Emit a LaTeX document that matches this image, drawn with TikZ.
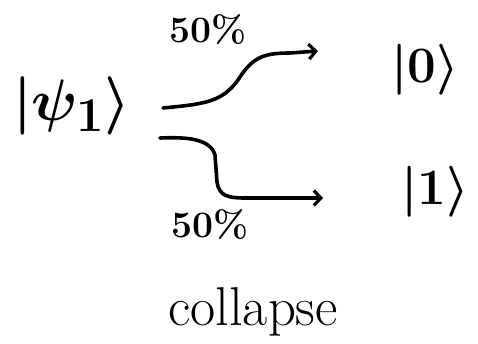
\documentclass[tikz,border=0pt]{standalone}
\usepackage{graphicx}
\usetikzlibrary{arrows.meta}
\newcommand{\bigtxt}[2]{\scalebox{#1}{#2}}
\begin{document}
\begin{tikzpicture}[x=1pt,y=-1pt,
  flow/.style={line width=3.6pt,line cap=round,line join=round,
    -{Straight Barb[length=7pt,width=15pt,line width=3.2pt]}},
  ket/.style={inner sep=0pt,font=\Huge\boldmath},
  pct/.style={inner sep=0pt,font=\huge\bfseries}]
\useasboundingbox (0,0) rectangle (478,344);
\node[inner sep=0pt,font=\Huge\boldmath] (psi) at (72,106) {\bigtxt{2.35}{$|\psi_1\rangle$}};
\node[ket] (k0) at (425,70) {\bigtxt{2.05}{$|0\rangle$}};
\node[ket] (k1) at (435,192) {\bigtxt{2.05}{$|1\rangle$}};
\node[pct] (ptop) at (208,30) {\bigtxt{1.8}{50\%}};
\node[pct] (pbot) at (210,225) {\bigtxt{1.8}{50\%}};
\node[inner sep=0pt,font=\Huge] (col) at (253,312) {\bigtxt{2.2}{collapse}};
% branch endpoints
\coordinate (s0) at (163,108);
\coordinate (e0) at (318,51);
\coordinate (s1) at (160,138);
\coordinate (e1) at (323,198);
\draw[flow] (s0) .. controls (205,104) and (222,102) .. (238,80)
  .. controls (252,58) and (262,53) .. (290,53) -- (e0);
\draw[flow] (s1) .. controls (185,137) and (210,138) .. (215,155)
  -- (217,182) .. controls (219,196) and (228,198) .. (245,198) -- (e1);
\end{tikzpicture}
\end{document}
